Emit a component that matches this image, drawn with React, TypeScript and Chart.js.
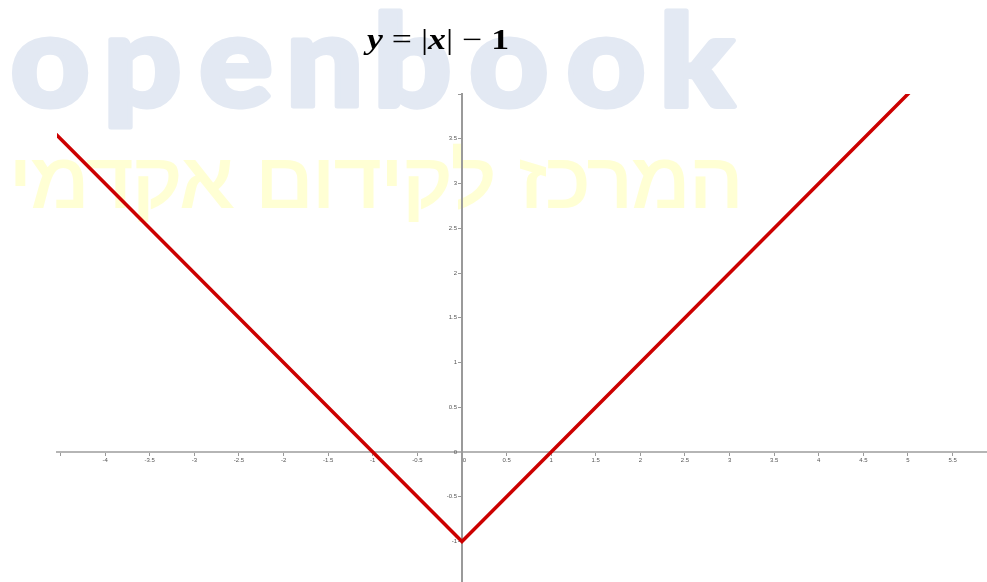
import React, { useEffect, useRef } from 'react';
import { Chart, registerables } from 'chart.js';

Chart.register(...registerables);

// Line data: y = |x| - 1 (vertices)
const lineX = [-4.6, 0, 6];
const lineY = [3.6, -1, 5];

const xTickValues = [-4.5, -4, -3.5, -3, -2.5, -2, -1.5, -1, -0.5, 0, 0.5, 1, 1.5, 2, 2.5, 3, 3.5, 4, 4.5, 5, 5.5];
const xTickLabels = ['', '-4', '-3.5', '-3', '-2.5', '-2', '-1.5', '-1', '-0.5', '\u00A0\u00A0\u00A00', '0.5', '1', '1.5', '2', '2.5', '3', '3.5', '4', '4.5', '5', '5.5'];
const yTickValues = [-1, -0.5, 0, 0.5, 1, 1.5, 2, 2.5, 3, 3.5, 4];
const yTickLabels = ['-1', '-0.5', '0', '0.5', '1', '1.5', '2', '2.5', '3', '3.5', ''];

const xMin = -4.54;
const xMax = 5.886;
const yMin = -1.452;
const yMax = 4.0;

const titleParts: { t: string; f: string }[] = [
  { t: 'y', f: 'bold italic' },
  { t: ' = ', f: 'normal' },
  { t: '|', f: 'normal' },
  { t: 'x', f: 'bold italic' },
  { t: '|', f: 'normal' },
  { t: ' \u2212 ', f: 'normal' },
  { t: '1', f: 'bold' },
];

const watermarkLatin = 'openbook';
const watermarkHebrew = 'המרכז לקידום אקדמי';

const watermarkPlugin = {
  id: 'watermarkPlugin',
  beforeDraw(chart: any) {
    const ctx: CanvasRenderingContext2D = chart.ctx;
    ctx.save();
    // Latin watermark
    ctx.fillStyle = '#E3E9F3';
    ctx.strokeStyle = '#E3E9F3';
    ctx.lineWidth = 5;
    ctx.lineJoin = 'round';
    ctx.textBaseline = 'alphabetic';
    ctx.textAlign = 'left';
    ctx.font = '900 128px Lato';
    const chars = [...watermarkLatin];
    const ms = chars.map((c) => ctx.measureText(c));
    const inks = ms.map((m) => m.actualBoundingBoxLeft + m.actualBoundingBoxRight + ctx.lineWidth);
    const total = inks.reduce((a, b) => a + b, 0);
    const gap = 19;
    const sx = (727 - gap * (chars.length - 1)) / total;
    let x = 11;
    chars.forEach((c, i) => {
      ctx.save();
      ctx.translate(x, 0);
      ctx.scale(sx, 1);
      const px = ms[i].actualBoundingBoxLeft + ctx.lineWidth / 2;
      ctx.fillText(c, px, 106);
      ctx.strokeText(c, px, 106);
      ctx.restore();
      x += inks[i] * sx + gap;
    });
    ctx.restore();

    // Hebrew watermark
    ctx.save();
    ctx.fillStyle = '#FFFFD4';
    ctx.strokeStyle = '#FFFFD4';
    ctx.lineWidth = 2;
    ctx.font = '76px "Liberation Sans"';
    (ctx as any).direction = 'rtl';
    ctx.textAlign = 'center';
    ctx.textBaseline = 'alphabetic';
    const hm = ctx.measureText(watermarkHebrew);
    const inkW = hm.actualBoundingBoxLeft + hm.actualBoundingBoxRight;
    const off = (hm.actualBoundingBoxRight - hm.actualBoundingBoxLeft) / 2;
    const hsx = 721 / inkW;
    ctx.translate(376.5, 207);
    ctx.scale(hsx, 1);
    ctx.fillText(watermarkHebrew, -off, 0);
    ctx.strokeText(watermarkHebrew, -off, 0);
    ctx.restore();
  },
};

const titlePlugin = {
  id: 'titlePlugin',
  afterDraw(chart: any) {
    const ctx: CanvasRenderingContext2D = chart.ctx;
    ctx.save();
    ctx.fillStyle = '#000';
    ctx.textBaseline = 'alphabetic';
    ctx.textAlign = 'left';
    const size = 29;
    const fam = '"Liberation Serif"';
    const ws = titleParts.map((p) => {
      ctx.font = `${p.f} ${size}px ${fam}`;
      return ctx.measureText(p.t).width;
    });
    const tot = ws.reduce((a, b) => a + b, 0);
    const sx = 142 / tot;
    ctx.translate(367, 49);
    ctx.scale(sx, 1);
    let x = 0;
    titleParts.forEach((p, i) => {
      ctx.font = `${p.f} ${size}px ${fam}`;
      ctx.fillText(p.t, x, 0);
      x += ws[i];
    });
    ctx.restore();
  },
};

export default function App() {
  const ref = useRef<HTMLCanvasElement | null>(null);
  useEffect(() => {
    document.body.style.margin = '0';
    document.body.style.overflow = 'hidden';
    if (!ref.current) return;
    const points = lineX.map((x, i) => ({ x, y: lineY[i] }));
    const chart = new Chart(ref.current, {
      type: 'scatter',
      data: {
        datasets: [
          {
            data: points,
            showLine: true,
            borderColor: '#CC0000',
            borderWidth: 3.5,
            pointRadius: 0,
            fill: false,
            tension: 0,
          },
        ],
      },
      options: {
        animation: false,
        responsive: false,
        layout: { padding: { left: 57, top: 94, right: 0, bottom: 20 } },
        plugins: {
          legend: { display: false },
          tooltip: { enabled: false },
          title: { display: false },
        },
        scales: {
          x: {
            type: 'linear',
            min: xMin,
            max: xMax,
            position: { y: 0 } as any,
            afterBuildTicks: (scale: any) => {
              scale.ticks = xTickValues.map((v) => ({ value: v }));
            },
            ticks: {
              autoSkip: false,
              maxRotation: 0,
              padding: 2,
              font: { size: 6, family: '"Liberation Sans"' },
              color: '#555',
              callback: (_v: any, i: number) => xTickLabels[i],
            },
            grid: { display: true, drawOnChartArea: false, drawTicks: true, tickLength: 3, color: '#999' },
            border: { display: true, color: '#B5B5B5', width: 2 },
          },
          y: {
            type: 'linear',
            min: yMin,
            max: yMax,
            position: { x: 0 } as any,
            afterBuildTicks: (scale: any) => {
              scale.ticks = yTickValues.map((v) => ({ value: v }));
            },
            ticks: {
              autoSkip: false,
              padding: 0,
              font: { size: 6, family: '"Liberation Sans"' },
              color: '#555',
              callback: (_v: any, i: number) => (yTickLabels[i] ? yTickLabels[i] + '\u00A0\u00A0\u00A0' : ''),
            },
            grid: { display: true, drawOnChartArea: false, drawTicks: true, tickLength: 3, color: '#999' },
            border: { display: true, color: '#9A9A9A', width: 2 },
          },
        },
      },
      plugins: [watermarkPlugin, titlePlugin],
    });
    return () => chart.destroy();
  }, []);
  return (
    <div style={{ width: 987, height: 582, overflow: 'hidden', background: '#fff' }}>
      <canvas ref={ref} width={987} height={602} style={{ display: 'block' }} />
    </div>
  );
}
